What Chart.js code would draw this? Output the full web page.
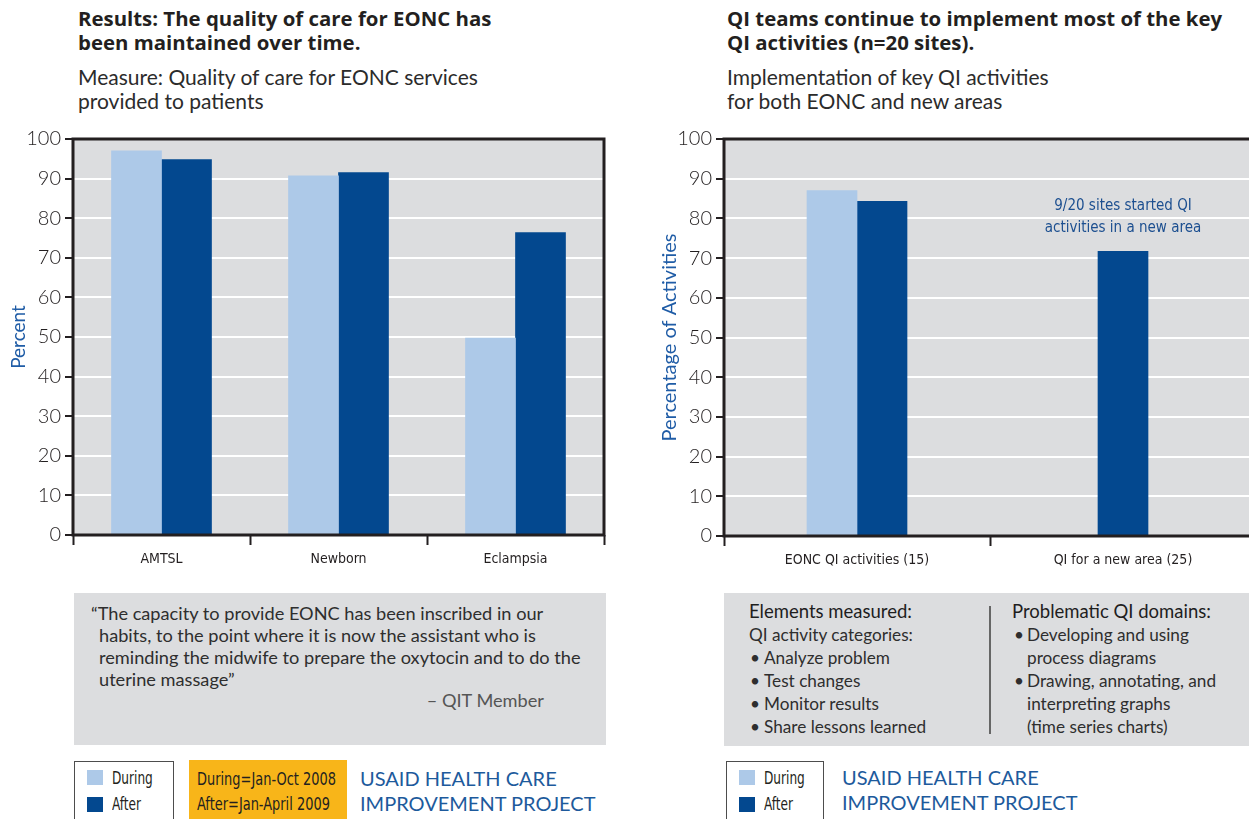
<!DOCTYPE html>
<html>
<head>
<meta charset="utf-8">
<script src="https://cdn.jsdelivr.net/npm/chart.js@4.4.1/dist/chart.umd.min.js"></script>
<style>
  html, body { margin: 0; padding: 0; }
  body {
    width: 1249px; height: 819px; overflow: hidden; position: relative;
    background: #fff; color: #231f20;
    font-family: Lato, "Open Sans", sans-serif;
  }
  .abs { position: absolute; white-space: nowrap; }
  .title { font-family: "Open Sans", Lato, sans-serif; font-weight: 700; font-size: 20.4px; line-height: 24px; color: #231f20; }
  .sub { font-size: 21px; line-height: 24px; color: #2b2b2b; }
  .panel { position: absolute; background: #dcdddf; }
  .txt { font-size: 17.2px; line-height: 23px; color: #2e2e2e; }
  .quote { font-size: 18.2px; line-height: 22px; color: #2e2e2e; }
  .head { font-size: 18.5px; line-height: 23px; color: #1e1e1e; }
  .cond { font-family: "DejaVu Sans", sans-serif; font-stretch: condensed; transform-origin: 0 50%; }
  .legend { position: absolute; border: 1.5px solid #4d4d4d; border-bottom: none; background: #fff; }
  .legend .sw { position: absolute; width: 16px; height: 15px; }
  .legend .lb { position: absolute; font-size: 18px; line-height: 20px; color: #231f20; transform: scaleX(0.75); }
  .usaid { font-size: 20px; line-height: 25px; color: #1d5a9c; }
  canvas { position: absolute; }
</style>
</head>
<body>

<!-- headings -->
<div class="abs title" style="left:78px; top:6px;">Results: The quality of care for EONC has<br>been maintained over time.</div>
<div class="abs sub" style="left:78px; top:65px;">Measure: Quality of care for EONC services<br>provided to patients</div>

<div class="abs title" style="left:727px; top:6px;">QI teams continue to implement most of the key<br>QI activities (n=20 sites).</div>
<div class="abs sub" style="left:727px; top:65px;">Implementation of key QI activities<br>for both EONC and new areas</div>

<!-- charts -->
<canvas id="qualityChart" width="620" height="460" style="left:0px; top:120px;"></canvas>
<canvas id="qiChart" width="620" height="460" style="left:640px; top:120px;"></canvas>

<!-- quote panel -->
<div class="panel" style="left:74px; top:593px; width:532px; height:152px;"></div>
<div class="abs quote" style="left:91px; top:602px;">“The capacity to provide EONC has been inscribed in our</div>
<div class="abs quote" style="left:99px; top:624px;">habits, to the point where it is now the assistant who is</div>
<div class="abs quote" style="left:99px; top:646px;">reminding the midwife to prepare the oxytocin and to do the</div>
<div class="abs quote" style="left:99px; top:668px;">uterine massage”</div>
<div class="abs quote" style="right:705px; top:689px; color:#555;">– QIT Member</div>

<!-- QI elements panel -->
<div class="panel" style="left:724px; top:593px; width:525px; height:153px;"></div>
<div class="abs" style="left:989px; top:606px; width:1.5px; height:128px; background:#666;"></div>
<div class="abs head" style="left:749px; top:600px;">Elements measured:</div>
<div class="abs txt" style="left:749px; top:623px;">QI activity categories:</div>
<div class="abs txt" style="left:750px; top:646px;">•</div><div class="abs txt" style="left:764px; top:646px;">Analyze problem</div>
<div class="abs txt" style="left:750px; top:669px;">•</div><div class="abs txt" style="left:764px; top:669px;">Test changes</div>
<div class="abs txt" style="left:750px; top:692px;">•</div><div class="abs txt" style="left:764px; top:692px;">Monitor results</div>
<div class="abs txt" style="left:750px; top:715px;">•</div><div class="abs txt" style="left:764px; top:715px;">Share lessons learned</div>
<div class="abs head" style="left:1012px; top:600px;">Problematic QI domains:</div>
<div class="abs txt" style="left:1014px; top:623px;">•</div><div class="abs txt" style="left:1027px; top:623px;">Developing and using</div>
<div class="abs txt" style="left:1027px; top:646px;">process diagrams</div>
<div class="abs txt" style="left:1014px; top:669px;">•</div><div class="abs txt" style="left:1027px; top:669px;">Drawing, annotating, and</div>
<div class="abs txt" style="left:1027px; top:692px;">interpreting graphs</div>
<div class="abs txt" style="left:1027px; top:715px;">(time series charts)</div>

<!-- legends and footers -->
<div class="legend" id="legendLeft" style="left:74px; top:761px; width:98px; height:60px;"></div>
<div class="abs" style="left:189px; top:760px; width:158px; height:60px; background:#f8b519;"></div>
<div class="abs cond" style="left:197px; top:766px; font-size:18px; line-height:25px; color:#231f20; transform:scaleX(0.8);">During=Jan-Oct 2008<br>After=Jan-April 2009</div>
<div class="abs usaid" style="left:360px; top:766px;">USAID HEALTH CARE<br>IMPROVEMENT PROJECT</div>

<div class="legend" id="legendRight" style="left:726px; top:761px; width:96px; height:60px;"></div>
<div class="abs usaid" style="left:842px; top:765px;">USAID HEALTH CARE<br>IMPROVEMENT PROJECT</div>

<script>
// Series shared by both charts
const seriesNames = ['During', 'After'];
const seriesColors = ['#adc9e8', '#03488f'];

// Quality of care for EONC services (percent)
const qualityCategories = ['AMTSL', 'Newborn', 'Eclampsia'];
const qualityDuring = [97, 90.7, 49.7];
const qualityAfter = [94.8, 91.5, 76.4];

// Implementation of key QI activities (percentage of activities)
const qiCategories = ['EONC QI activities (15)', 'QI for a new area (25)'];
const qiDuring = [87, null];
const qiAfter = [84.3, 71.7];
const noteLines = ['9/20 sites started QI', 'activities in a new area'];

const INK = '#231f20';
const BLUE = '#1f5ca6';
const COND = "'DejaVu Sans', sans-serif";

// grey plot background and dark frame round the plot area
const plotFrame = {
  id: 'plotFrame',
  beforeDraw(chart) {
    const { ctx, chartArea: a } = chart;
    ctx.save();
    ctx.fillStyle = '#dcdddf';
    ctx.fillRect(a.left, a.top, a.right - a.left, a.bottom - a.top);
    ctx.restore();
  },
  afterDraw(chart) {
    const { ctx, chartArea: a } = chart;
    ctx.save();
    ctx.strokeStyle = INK;
    ctx.lineWidth = 3;
    ctx.strokeRect(a.left, a.top, a.right - a.left, a.bottom - a.top);
    ctx.restore();
  }
};

// note above the new-area bar
const noteLabel = {
  id: 'noteLabel',
  afterDatasetsDraw(chart) {
    const { ctx, scales: { x, y } } = chart;
    const cx = x.getPixelForValue(1);
    const top = y.getPixelForValue(qiAfter[1]);
    ctx.save();
    ctx.font = 'normal condensed 15px ' + COND;
    ctx.fillStyle = '#1c4f90';
    ctx.textAlign = 'center';
    ctx.textBaseline = 'middle';
    ctx.fillText(noteLines[0], cx, top - 45);
    ctx.fillText(noteLines[1], cx, top - 23);
    ctx.restore();
  }
};

function makeChart(id, labels, during, after, o) {
  return new Chart(document.getElementById(id), {
    type: 'bar',
    data: {
      labels: labels,
      datasets: [
        { label: seriesNames[0], data: during, backgroundColor: seriesColors[0], skipNull: true, barThickness: 50 },
        { label: seriesNames[1], data: after, backgroundColor: seriesColors[1], skipNull: true, barThickness: 50 }
      ]
    },
    options: {
      responsive: false,
      animation: false,
      devicePixelRatio: 1,
      layout: { autoPadding: false, padding: { top: o.padTop, right: o.padRight, left: 0, bottom: 0 } },
      plugins: { legend: { display: false }, tooltip: { enabled: false } },
      scales: {
        x: {
          grid: { offset: true, drawOnChartArea: false, tickLength: 10, tickColor: INK, tickWidth: 2 },
          border: { display: false },
          ticks: { font: { family: COND, weight: 'condensed', size: 14 }, color: INK, padding: 6, maxRotation: 0 },
          afterFit(s) { s.height = o.xHeight; }
        },
        y: {
          min: 0, max: 100,
          ticks: { stepSize: 10, font: { family: 'Lato', weight: '300', size: 20 }, color: INK, padding: 4 },
          grid: { color: '#ffffff', lineWidth: 2, tickColor: INK, tickWidth: 2, tickLength: 8 },
          border: { display: false },
          title: {
            display: true, text: o.yTitle, color: BLUE,
            font: { family: 'Lato', size: o.titleSize },
            padding: { top: o.titlePad, bottom: 0 }
          },
          afterFit(s) { s.width = o.yWidth; }
        }
      }
    },
    plugins: [plotFrame].concat(o.extra || [])
  });
}

makeChart('qualityChart', qualityCategories, qualityDuring, qualityAfter,
  { padTop: 19, padRight: 16, xHeight: 45, yWidth: 73, yTitle: 'Percent', titleSize: 19, titlePad: 7 });

makeChart('qiChart', qiCategories, qiDuring, qiAfter,
  { padTop: 19, padRight: 4, xHeight: 44, yWidth: 84, yTitle: 'Percentage of Activities', titleSize: 20, titlePad: 18, extra: [noteLabel] });

// legend boxes built from the series
function buildLegend(id) {
  const box = document.getElementById(id);
  seriesNames.forEach((name, i) => {
    const sw = document.createElement('div');
    sw.className = 'sw';
    sw.style.left = '12px';
    sw.style.top = (8 + i * 27) + 'px';
    sw.style.background = seriesColors[i];
    box.appendChild(sw);
    const lb = document.createElement('div');
    lb.className = 'lb cond';
    lb.style.left = '37px';
    lb.style.top = (6 + i * 26) + 'px';
    lb.textContent = name;
    box.appendChild(lb);
  });
}
buildLegend('legendLeft');
buildLegend('legendRight');
</script>
</body>
</html>
